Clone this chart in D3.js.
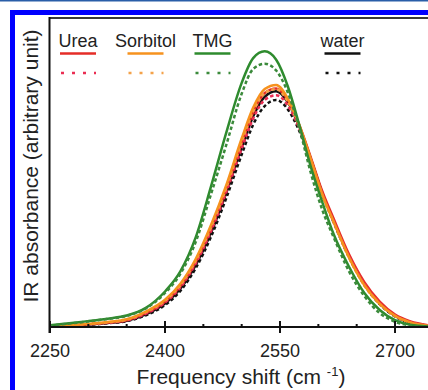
<!DOCTYPE html>
<html>
<head>
<meta charset="utf-8">
<script src="https://cdn.jsdelivr.net/npm/d3@7"></script>
<style>
  body { margin: 0; background: #fff; }
  text { font-family: "Liberation Sans", Arial, sans-serif; }
</style>
</head>
<body>
<div class="ir-chart"></div>
<script>
// frequency grid (cm-1) and absorbance
const freq = [2250, 2275, 2300, 2325, 2350, 2375, 2400, 2420, 2440, 2460, 2480, 2500, 2515,
              2530, 2545, 2560, 2575, 2590, 2605, 2620, 2640, 2660, 2680, 2700, 2720, 2743];

const waterDash = [0.002, 0.004, 0.007, 0.012, 0.019, 0.038, 0.071, 0.117, 0.19, 0.292, 0.418, 0.558, 0.655,
                   0.715, 0.735, 0.705, 0.635, 0.535, 0.43, 0.338, 0.226, 0.136, 0.074, 0.034, 0.013, 0.004];
const waterSolid = [0.002, 0.004, 0.008, 0.013, 0.02, 0.041, 0.076, 0.124, 0.2, 0.305, 0.435, 0.58, 0.682,
                    0.745, 0.763, 0.728, 0.65, 0.545, 0.435, 0.342, 0.228, 0.138, 0.076, 0.036, 0.014, 0.004];
const ureaDash = [0.003, 0.005, 0.009, 0.014, 0.021, 0.043, 0.079, 0.128, 0.205, 0.31, 0.437, 0.578, 0.675,
                  0.735, 0.75, 0.718, 0.643, 0.54, 0.432, 0.342, 0.23, 0.14, 0.078, 0.038, 0.016, 0.005];
const ureaSolid = [0.003, 0.005, 0.009, 0.014, 0.022, 0.045, 0.082, 0.132, 0.21, 0.318, 0.447, 0.595, 0.695,
                   0.757, 0.772, 0.735, 0.655, 0.55, 0.44, 0.35, 0.235, 0.145, 0.082, 0.04, 0.018, 0.006];
const sorbitolDash = [0.003, 0.006, 0.01, 0.015, 0.024, 0.048, 0.085, 0.136, 0.215, 0.323, 0.452, 0.6, 0.698,
                      0.757, 0.77, 0.73, 0.65, 0.54, 0.428, 0.338, 0.224, 0.134, 0.074, 0.035, 0.014, 0.004];
const sorbitolSolid = [0.003, 0.006, 0.01, 0.016, 0.025, 0.05, 0.088, 0.14, 0.22, 0.33, 0.46, 0.61, 0.71,
                       0.77, 0.783, 0.74, 0.655, 0.545, 0.43, 0.34, 0.225, 0.135, 0.075, 0.036, 0.015, 0.004];
const tmgSolid = [0.006, 0.012, 0.019, 0.027, 0.037, 0.062, 0.115, 0.18, 0.29, 0.455, 0.63, 0.79, 0.87,
                  0.892, 0.865, 0.78, 0.655, 0.52, 0.405, 0.30, 0.195, 0.11, 0.055, 0.022, 0.007, 0.002];
const tmgDash = [0.005, 0.011, 0.018, 0.026, 0.036, 0.06, 0.11, 0.172, 0.275, 0.43, 0.59, 0.755, 0.835,
                 0.852, 0.83, 0.76, 0.645, 0.50, 0.38, 0.29, 0.18, 0.10, 0.045, 0.017, 0.005, 0.001];

const legendNames = ["Urea", "Sorbitol", "TMG", "water"];
const xTicks = [2250, 2400, 2550, 2700];
const xMinorTicks = [2300, 2350, 2450, 2500, 2600, 2650];

const width = 428;
const height = 390;

const svg = d3.select(".ir-chart").append("svg")
    .attr("width", width)
    .attr("height", height)
    .attr("viewBox", [0, 0, width, height]);

// page frame (blue border of the source figure)
svg.append("rect").attr("x", 0).attr("y", 0).attr("width", width).attr("height", 1.5)
    .attr("fill", "#2a5ea8");
svg.append("rect")
    .attr("x", 12.5).attr("y", 12.5)
    .attr("width", width + 20).attr("height", height + 20)
    .attr("fill", "none").attr("stroke", "#0000ff").attr("stroke-width", 5);

const x = d3.scaleLinear().domain([2250, 2743]).range([50, 428]);
const y = d3.scaleLinear().domain([0, 1]).range([327, 18]);

const colors = {Urea: "#e52d27", Sorbitol: "#f6921e", TMG: "#2e8b2e", water: "#111111"};
const dashColors = {Urea: "#ea2d52", Sorbitol: "#f4a24a", TMG: "#3b8a3b", water: "#111111"};

// draw order: water, urea, sorbitol, TMG
const series = [
  {name: "water", dash: true, values: waterDash},
  {name: "water", dash: false, values: waterSolid},
  {name: "Urea", dash: false, values: ureaSolid},
  {name: "Urea", dash: true, values: ureaDash},
  {name: "Sorbitol", dash: true, values: sorbitolDash},
  {name: "Sorbitol", dash: false, values: sorbitolSolid},
  {name: "TMG", dash: false, values: tmgSolid},
  {name: "TMG", dash: true, values: tmgDash}
];

const line = d3.line()
    .x((d, i) => x(freq[i]))
    .y(d => y(d))
    .curve(d3.curveMonotoneX);

svg.append("g")
    .selectAll("path")
    .data(series)
    .join("path")
    .attr("d", d => line(d.values))
    .attr("fill", "none")
    .attr("stroke", d => d.dash ? dashColors[d.name] : colors[d.name])
    .attr("stroke-width", 2.5)
    .attr("stroke-dasharray", d => d.dash ? "3.5,2.5" : null);

/*Frame and axes*/
svg.append("line")
    .attr("x1", 49).attr("x2", width).attr("y1", 18).attr("y2", 18)
    .attr("stroke", "#3a3a3a").attr("stroke-width", 2);
svg.append("line")
    .attr("x1", 49.5).attr("x2", 49.5).attr("y1", 17).attr("y2", 333)
    .attr("stroke", "#111").attr("stroke-width", 2);

const xAxis = svg.append("g").attr("transform", "translate(0,327)");
xAxis.append("line").attr("x1", 49).attr("x2", width).attr("y1", 0).attr("y2", 0)
    .attr("stroke", "#111").attr("stroke-width", 2.2);
xAxis.selectAll(".major").data(xTicks).join("line")
    .attr("class", "major")
    .attr("x1", d => x(d)).attr("x2", d => x(d))
    .attr("y1", -6).attr("y2", 6)
    .attr("stroke", "#111").attr("stroke-width", 2);
xAxis.selectAll(".minor").data(xMinorTicks).join("line")
    .attr("class", "minor")
    .attr("x1", d => x(d)).attr("x2", d => x(d))
    .attr("y1", -3).attr("y2", 0)
    .attr("stroke", "#111").attr("stroke-width", 2);
xAxis.selectAll("text").data(xTicks).join("text")
    .attr("x", d => x(d)).attr("y", 30)
    .attr("text-anchor", "middle")
    .attr("font-size", 18)
    .attr("fill", "#222")
    .text(d => d);

// axis titles
const xTitle = svg.append("text")
    .attr("x", 241).attr("y", 384)
    .attr("text-anchor", "middle")
    .attr("font-size", 21)
    .attr("fill", "#222");
xTitle.append("tspan").text("Frequency shift (cm ");
xTitle.append("tspan").attr("font-size", 13).attr("dy", -8).text("-1");
xTitle.append("tspan").attr("dy", 8).text(")");

svg.append("text")
    .attr("transform", "translate(38,166) rotate(-90)")
    .attr("text-anchor", "middle")
    .attr("font-size", 21)
    .attr("fill", "#222")
    .text("IR absorbance (arbitrary unit)");

/*Legend*/
const legendX = [78, 145.5, 212.5, 342.5];
const legend = svg.append("g")
    .selectAll("g")
    .data(legendNames)
    .join("g")
    .attr("transform", (d, i) => `translate(${legendX[i]},0)`);

legend.append("text")
    .attr("x", 0).attr("y", 47)
    .attr("text-anchor", "middle")
    .attr("font-size", 18)
    .attr("fill", "#222")
    .text(d => d);
legend.append("line")
    .attr("x1", -18).attr("x2", 18).attr("y1", 53.5).attr("y2", 53.5)
    .attr("stroke", d => colors[d]).attr("stroke-width", 2.5);
legend.append("line")
    .attr("x1", -17).attr("x2", 18).attr("y1", 73).attr("y2", 73)
    .attr("stroke", d => dashColors[d]).attr("stroke-width", 2.5)
    .attr("stroke-dasharray", "3,8");
</script>
</body>
</html>
